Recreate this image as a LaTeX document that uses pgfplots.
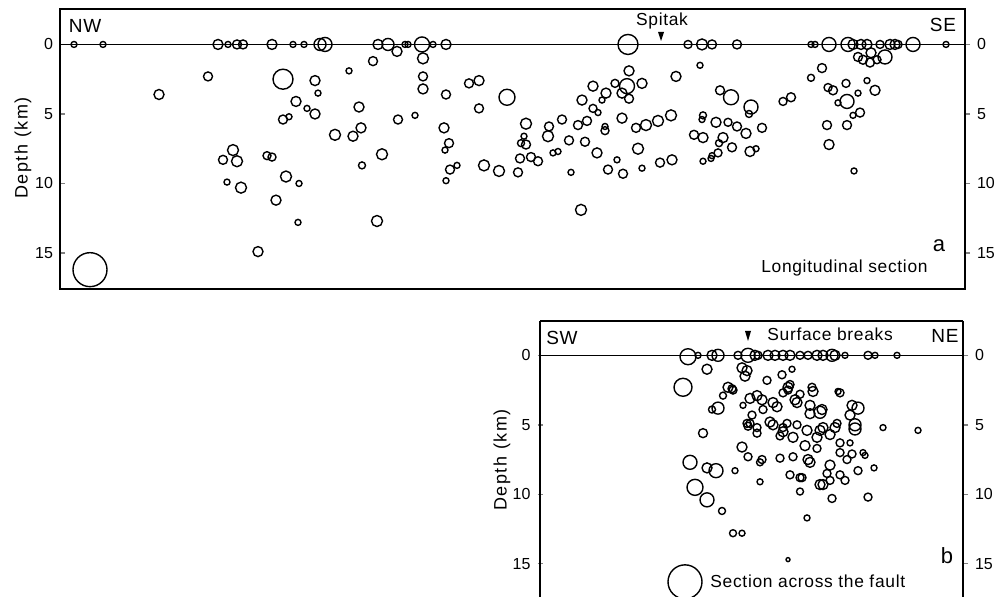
\documentclass[border=0pt]{standalone}
\usepackage{fontspec}
\setmainfont{Liberation Sans}
\newfontfamily\spaced[LetterSpace=4]{Liberation Sans}
\newfontfamily\wide[LetterSpace=9]{Liberation Sans}
\usepackage{pgfplots}
\usepackage{pgfplotstable}
\pgfplotsset{compat=1.18}

% x: position along section (px of original figure), d: depth (km), r: circle radius (px)
\pgfplotstableread{
x d r
74 0 3
103 0 3
218 0 5
228 0 3
237 0 4.5
243 0 4.5
272 0 5
293 0 3
304 0 3
320 0 6
325 0 7
378 0 5
388 0 6
405 0 3
408 0 3
422 0 7.5
433 0 3
446 0 5
628 0 10
688 0 4
702 0 5.5
712 0 4.5
737 0 4.5
811 0 3
815 0 3
829 0 7
848 0 7
853 0 5
861 0 5
867 0 5
880 0 4
890 0 5
895 0 5
898 0 4
913 0 7
946 0 3
208 2.3 4.5
159 3.6 5
283 2.5 10
315 2.6 5
318 3.5 3
296 4.1 5
307 4.6 3
315 5.0 5
283 5.4 4.5
289 5.2 3
335 6.5 5.5
233 7.6 5.5
223 8.3 4.5
237 8.4 5.5
267 8.0 4
272 8.1 4
286 9.5 5.5
227 9.9 3
241 10.3 5.5
299 10.0 3
276 11.2 5
298 12.8 3
258 14.9 5
397 0.5 5
373 1.2 4.5
349 1.9 3
423 1.0 5.5
423 2.3 4.5
423 3.2 5
469 2.8 4.5
479 2.6 5
507 3.8 8
446 3.6 4.5
359 4.5 5
361 6.0 5
353 6.6 5
398 5.4 4.5
415 5.1 3
479 4.6 4.5
444 6.0 5
449 7.1 4.5
445 7.6 3
382 7.9 5.5
362 8.7 3.5
450 9.0 4.5
457 8.7 3
446 9.8 3
484 8.7 5.5
499 9.1 5.5
518 9.2 4.5
377 12.7 5.5
526 5.7 5.5
524 6.6 3
521 7.1 3.5
526 7.2 4.5
520 8.2 4.5
531 8.1 4.5
538 8.4 4.5
549 5.9 4.5
548 6.6 5.5
562 5.4 4.5
569 6.9 4.5
553 7.8 3
558 7.7 3
571 9.2 3
578 5.8 4.5
587 5.5 4.5
585 7.0 4.5
582 4.0 5
593 3.0 5
593 4.6 4
598 4.9 3
606 3.5 5
602 4.0 3
605 5.9 3
605 6.2 4
597 7.8 5
629 1.9 5
627 3.0 7.5
622 3.5 5
629 3.9 4.5
642 2.8 5
615 2.8 4
622 5.3 5
636 6.0 4.5
646 5.8 5.5
658 5.5 5.5
671 5.1 5.5
638 7.5 5.5
608 9.0 4.5
617 8.3 3
623 9.3 4.5
642 8.9 3
660 8.5 4.5
672 8.3 5
581 11.9 5.5
700 1.5 3
676 2.3 5
720 3.3 4.5
731 3.8 7.5
751 4.5 7
749 5.0 3.5
703 5.1 3.5
702 5.4 3
716 5.6 5
728 5.6 4
737 5.9 4.5
746 6.4 5
762 6.0 4.5
694 6.5 4.5
703 6.7 5
723 6.7 5
719 7.1 3.5
732 7.4 4.5
718 7.8 4
712 8.0 3
711 8.2 3
703 8.4 3
750 7.7 5
756 7.5 3
783 4.1 4
791 3.8 4.5
811 2.4 3.5
822 1.7 4.5
828 3.1 4
833 3.3 4.5
846 2.8 4
847 4.1 7
838 4.2 3
858 3.5 3
867 2.6 3
875 3.3 5
860 4.9 4.5
853 5.1 3
827 5.8 4.5
847 5.8 4.5
829 7.2 5
854 9.1 3
858 0.9 4.5
863 1.1 4.5
870 1.3 4.5
877 1.1 4
885 0.9 7
871 0.6 5
}\topdata

\pgfplotstableread{
x d r
688 0.1 8
698 0 3
712 0 5
718 0 6
738 0 4
748 0 7
755 0 5
758 0 4
768 0 5
775 0 5
783 0 5
790 0 5
800 0 4
808 0 4
817 0 5
823 0 5
832 0 6
835 0 5
845 0 3
868 0 4
875 0 3
897 0 3
707 1.0 5
683 2.3 9
732 2.4 4
723 2.9 3.5
718 3.8 6
712 3.9 3.5
703 5.6 4.5
742 0.9 5
745 1.5 5
750 3.1 5
743 3.6 3
752 4.3 4
748 5.1 4
728 2.3 5
690 7.7 7
707 8.1 5
716 8.3 7
695 9.5 8
707 10.4 7
722 11.2 3.5
733 12.8 3.5
742 12.8 3
747 1.1 5
792 1.0 3
782 1.4 4
767 1.8 4
790 2.1 4
788 2.5 4
838 2.6 3
812 2.3 4
762 3.2 5
773 3.4 5
783 2.7 4
795 3.2 5
800 2.8 4
810 3.6 5
822 3.9 5
852 3.6 5
858 3.8 6
850 4.3 5
855 5.0 6
747 4.9 4
757 5.2 4
773 5.0 5
787 4.9 4
797 5.0 4
807 5.4 5
820 5.4 5
830 5.7 5
883 5.2 3
918 5.4 3
780 5.8 4
793 5.9 5
805 6.5 5
840 6.3 4
850 6.3 3
863 7.0 3
757 5.6 4
783 5.5 5
823 5.2 5
837 4.9 4
760 7.7 3.5
780 7.4 4
793 7.3 4
808 7.5 5
817 6.7 4
830 7.9 5
840 7.0 4
852 7.1 4
858 8.3 4
865 7.2 3
874 8.1 3
760 9.1 3
790 8.6 4
802 8.8 4
820 9.3 5
830 9.0 4
827 8.5 4
845 9.0 4
800 9.8 3.5
832 10.3 4
868 10.2 4
807 11.7 3
788 14.7 2
742 6.6 5
748 7.3 4
735 8.3 3
733 2.5 4
757 2.9 5
788 2.3 5
813 2.6 5
840 2.7 4
820 4.1 6
810 4.2 5
797 3.4 5
777 3.7 5
763 3.9 4
750 4.9 4
770 4.8 5
783 5.2 4
817 5.9 5
835 5.2 5
855 5.3 6
762 7.5 4
810 7.7 5
847 7.5 4
823 9.3 5
800 8.8 4
840 8.6 4
}\botdata

\pgfplotstableread{
x d r
90 16.2 17
}\topscale
\pgfplotstableread{
x d r
685 16.3 17
}\botscale

\pgfplotsset{
  quake/.style={scatter, only marks, mark=o, line width=0.7pt,
    scatter/use mapped color={draw=black},
    visualization depends on={0.5*\thisrow{r} \as \rad},
    scatter/@pre marker code/.append style={/tikz/mark size=\rad}},
  panel/.style={scale only axis, y dir=reverse, xtick=\empty,
    ytick={0,5,10,15}, major tick length=2.5pt,
    axis line style={line width=0.9pt},
    tick style={line width=0.7pt},
    /pgf/number format/assume math mode=true,
    ticklabel style={font=\fontsize{8}{9}\selectfont}},
  toppanel/.style={panel, at={(256.25pt,-74.5pt)}, anchor=center,
    width=452.5pt, height=140pt,
    xmin=60, xmax=965, ymin=-2.55, ymax=17.59},
  botpanel/.style={panel, at={(375.75pt,-229.5pt)}, anchor=center,
    width=211.5pt, height=138pt,
    xmin=540, xmax=963, ymin=-2.47, ymax=17.39, hide x axis},
}
\newcommand\lbl{\fontsize{8.7}{10}\selectfont\spaced}

\begin{document}
\begin{tikzpicture}[x=0.5pt,y=-0.5pt]
\path[use as bounding box] (0,0) rectangle (996,597);

% (a) longitudinal section
\begin{axis}[toppanel, ytick pos=left, tick align=inside]
\draw[line width=0.8pt] (axis cs:60,0) -- (axis cs:965,0);
\addplot[quake] table {\topdata};
\addplot[quake] table {\topscale};
\end{axis}
\begin{axis}[toppanel, hide x axis, axis y line*=right, tick align=outside]
\end{axis}

% (b) section across the fault
\begin{axis}[botpanel, ytick pos=left, tick align=center]
\draw[line width=0.8pt] (axis cs:540,0) -- (axis cs:963,0);
\addplot[quake] table {\botdata};
\addplot[quake] table {\botscale};
\end{axis}
\begin{axis}[botpanel, axis y line*=right, tick align=outside]
\end{axis}
\draw[line width=0.9pt] (540,321) -- (963,321);

% labels
\node[rotate=90, font=\fontsize{9}{10}\selectfont\wide] at (23,148) {Depth (km)};
\node[rotate=90, font=\fontsize{9}{10}\selectfont\wide] at (502,460) {Depth (km)};
\node[font=\fontsize{9.5}{10}\selectfont\spaced] at (85,26) {NW};
\node[font=\fontsize{9.5}{10}\selectfont\spaced] at (943,25) {SE};
\node[font=\lbl, anchor=base] at (662,26) {Spitak};
\fill (658,32) -- (664,32) -- (661,41) -- cycle;
\node[font=\fontsize{11}{12}\selectfont] at (939,246) {a};
\node[font=\lbl, anchor=base east, inner sep=0pt] at (928,273) {Longitudinal section};
\node[font=\fontsize{9.5}{10}\selectfont\spaced] at (562,338) {SW};
\node[font=\fontsize{9.5}{10}\selectfont\spaced] at (945,336) {NE};
\node[font=\lbl, anchor=base west, inner sep=0pt] at (767,341) {Surface breaks};
\fill (745,331) -- (751,331) -- (748,341) -- cycle;
\node[font=\fontsize{11}{12}\selectfont] at (947,556) {b};
\node[font=\lbl, anchor=base west, inner sep=0pt] at (710,588) {Section across the fault};
\end{tikzpicture}
\end{document}
